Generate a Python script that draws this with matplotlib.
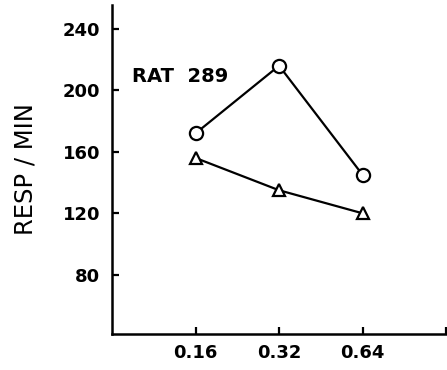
import matplotlib
matplotlib.use('Agg')
import matplotlib.pyplot as plt
from matplotlib.ticker import FixedLocator, NullLocator

# dose values and response rates
doses = [0.16, 0.32, 0.64]
circle_resp = [172, 216, 145]
triangle_resp = [156, 135, 120]
y_ticks = [80, 120, 160, 200, 240]
x_tick_labels = ['0.16', '0.32', '0.64']

plt.rcParams['font.family'] = ['DejaVu Sans']

fig = plt.figure(figsize=(4.47, 3.7), dpi=100)
ax = fig.add_axes([0.2506, 0.0973, 0.7474, 0.8892])

ax.plot(doses, circle_resp, color='black', lw=1.6, marker='o', ms=9.5,
        mfc='white', mec='black', mew=1.6, zorder=3)
ax.plot(doses, triangle_resp, color='black', lw=1.6, marker='^', ms=9,
        mfc='white', mec='black', mew=1.6, zorder=3)

ax.set_xscale('log', base=2)
ax.set_xlim(0.08, 1.28)
ax.set_ylim(41.5, 255.5)

ax.xaxis.set_major_locator(FixedLocator(doses + [1.28]))
ax.xaxis.set_minor_locator(NullLocator())
ax.set_xticklabels(x_tick_labels + [''])
ax.set_yticks(y_ticks)
ax.set_yticklabels([str(v) for v in y_ticks])

ax.tick_params(direction='in', length=5, width=1.6, labelsize=13, pad=7)
ax.tick_params(axis='y', pad=8.5)
for lab in ax.get_xticklabels() + ax.get_yticklabels():
    lab.set_fontweight('bold')

for side in ['top', 'right']:
    ax.spines[side].set_visible(False)
for side in ['left', 'bottom']:
    ax.spines[side].set_linewidth(1.8)

ax.set_ylabel('RESP / MIN', fontsize=17.5, labelpad=18)
fig.text(132 / 447, 1 - 76 / 370, 'RAT  289', fontsize=14, fontweight='semibold', va='center')

fig.savefig('out.png', dpi=100)
